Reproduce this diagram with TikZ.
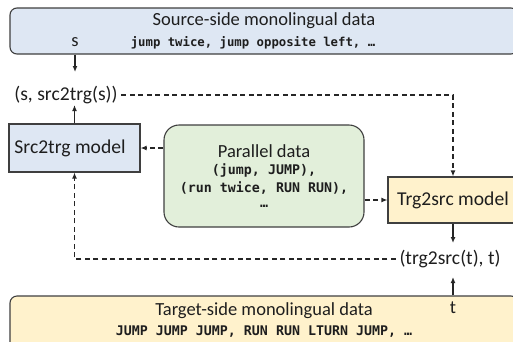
\documentclass[tikz,border=0pt]{standalone}
\usepackage{fontspec}
\setmainfont{Carlito}
\newfontfamily\monof{DejaVu Sans Mono}
\usetikzlibrary{arrows.meta}
\definecolor{bluefill}{HTML}{DEE7F3}
\definecolor{greenfill}{HTML}{E2EFDA}
\definecolor{orangefill}{HTML}{FFF2CC}
\definecolor{edgegray}{HTML}{3F3F3F}
\definecolor{linegray}{HTML}{262626}
\definecolor{txt}{HTML}{1E1E1E}
\tikzset{
  boxed/.style={draw=edgegray, line width=1.1pt},
  titletext/.style={text=txt, font=\fontsize{18.5}{22}\selectfont, inner sep=0pt},
  labeltext/.style={text=txt, font=\fontsize{19.6}{23}\selectfont, inner sep=0pt},
  edgelabel/.style={labeltext, inner xsep=3.5pt},
  monotext/.style={text=txt, font=\monof\bfseries\fontsize{13.3}{16}\selectfont, inner sep=0pt},
  monosmall/.style={text=txt, font=\monof\bfseries\fontsize{12.3}{15}\selectfont, inner sep=0pt},
  arr/.style={-{Latex[length=6pt,width=5pt]}, line width=1.4pt, draw=linegray},
  dasharr/.style={arr, dash pattern=on 5pt off 3.5pt},
}
\begin{document}
\begin{tikzpicture}[x=1pt,y=-1pt]
\useasboundingbox (0,0) rectangle (513,341);
\clip (0,0) rectangle (513,341);
% top box
\node[boxed, fill=bluefill, rounded corners=7pt, minimum width=508pt, minimum height=46pt] (topbox) at (264,31) {};
\node[titletext] (toptitle) at (264,21) {Source-side monolingual data};
\node[monosmall] (topdata) at (253,43) {jump twice, jump opposite left, …};
\node[titletext] (s) at (75,42) {s};
% source label
\node[edgelabel] (srclabel) at (66,95) {(s, src2trg(s))};
% src2trg model
\node[boxed, fill=bluefill, minimum width=131pt, minimum height=48pt] (src) at (74.5,148) {};
\node[labeltext] (srctext) at (70,148) {Src2trg model};
% parallel data
\node[boxed, fill=greenfill, rounded corners=15pt, minimum width=200pt, minimum height=102pt] (par) at (264,176) {};
\node[titletext] (partitle) at (264,151) {Parallel data};
\node[monotext] (par1) at (264,170) {(jump, JUMP),};
\node[monotext] (par2) at (264,188) {(run twice, RUN RUN),};
\node[monotext] (par3) at (264,206) {…};
% trg2src model
\node[boxed, fill=orangefill, minimum width=130pt, minimum height=46pt, labeltext] (trg) at (453,200) {Trg2src model};
\node[edgelabel] (trglabel) at (450,259) {(trg2src(t), t)};
% bottom box
\node[boxed, fill=orangefill, rounded corners=7pt, minimum width=508pt, minimum height=60pt] (botbox) at (264,326) {};
\node[titletext] (bottitle) at (264,311) {Target-side monolingual data};
\node[monotext] (botdata) at (264,332) {JUMP JUMP JUMP, RUN RUN LTURN JUMP, …};
\node[titletext] (t) at (453,308) {t};
% connectors
\coordinate (sTip) at (75,72);
\coordinate (srcTip) at (74.5,105);
\coordinate (trgTip) at (453,243);
\coordinate (tTip) at (453,277);
\draw[arr] (s |- topbox.south) -- (sTip);
\draw[arr] (src.north) -- (srcTip);
\draw[dasharr] (srclabel.east) -| (trg.north);
\draw[dasharr] (trglabel.west) -| (src.south);
\draw[dasharr] (par.west |- src.east) -- (src.east);
\draw[dasharr] (par.east |- trg.west) -- (trg.west);
\draw[arr] (trg.south) -- (trgTip);
\draw[arr] (t |- botbox.north) -- (tTip);
\end{tikzpicture}
\end{document}
